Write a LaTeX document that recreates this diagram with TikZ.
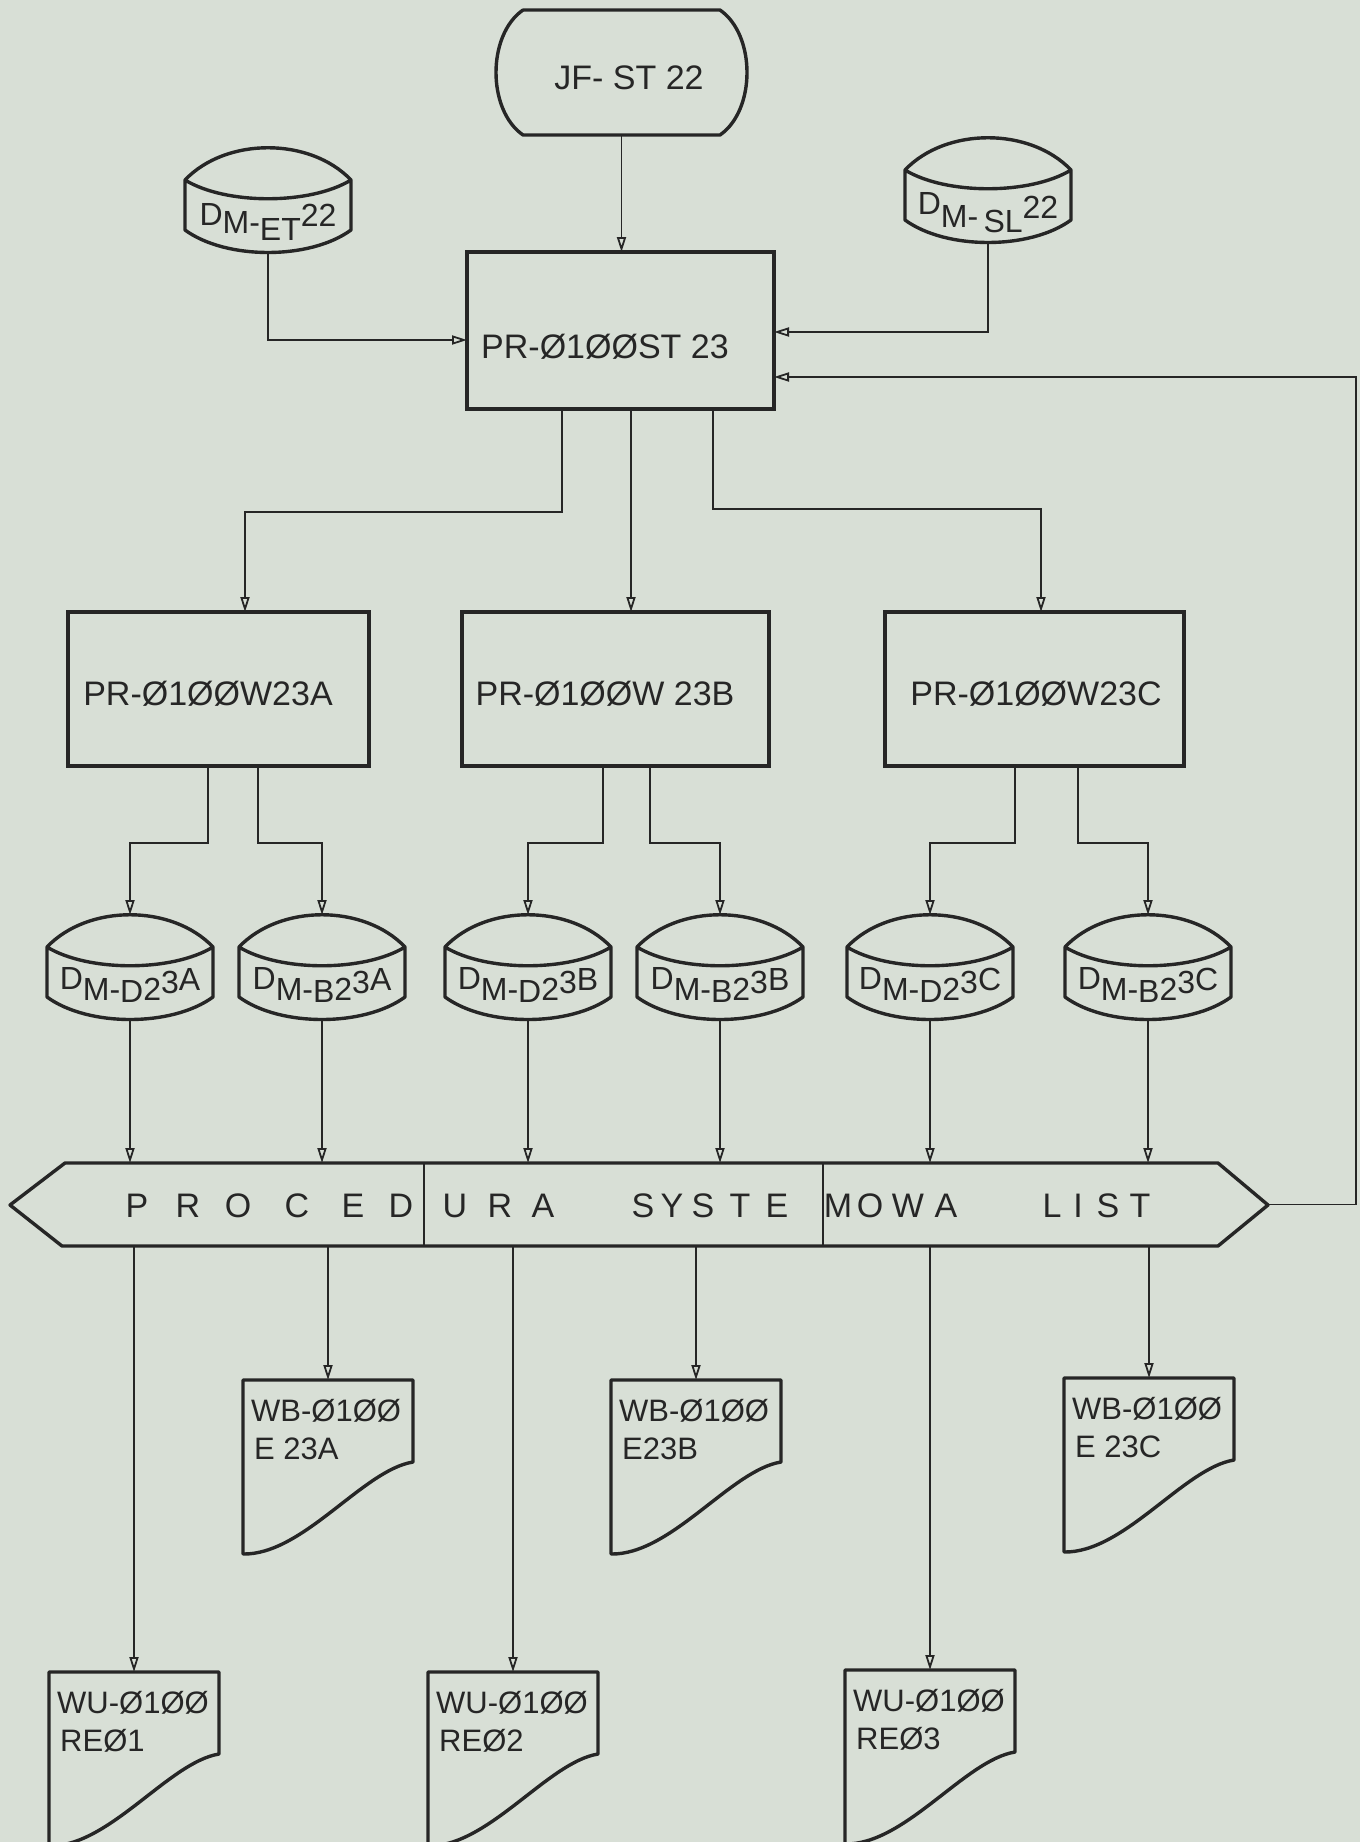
\documentclass[tikz,border=0pt]{standalone}
\usepackage{fontspec}
\setmainfont{Liberation Sans}
\usetikzlibrary{arrows.meta}
\definecolor{paper}{RGB}{216,223,214}
\definecolor{ink}{RGB}{38,38,38}
\newcommand\rb[2]{\raisebox{#1pt}{#2}}
% disk: name, cx, ytop, label, baseline y
\newcommand\mydisk[5]{%
  \node[box0, minimum width=166pt, minimum height=105pt] (#1) at (#2,#3+52.5) {};
  \draw[outl] (#2-83,#3+32) .. controls (#2-42,#3-11) and (#2+42,#3-11) .. (#2+83,#3+32)
     .. controls (#2+42,#3+57) and (#2-42,#3+57) .. (#2-83,#3+32)
     -- (#2-83,#3+82) .. controls (#2-42,#3+112) and (#2+42,#3+112) .. (#2+83,#3+82) -- (#2+83,#3+32);
  \node[dlbl] (#1l) at (#2,#5) {#4};
}
% document: name, xleft, ytop, line1, line2
\newcommand\mydoc[5]{%
  \node[box0, minimum width=170pt, minimum height=174pt] (#1) at (#2+85,#3+87) {};
  \draw[outl] (#2,#3+174) -- (#2,#3) -- (#2+170,#3) -- (#2+170,#3+82)
     .. controls (#2+120,#3+90) and (#2+60,#3+175) .. (#2,#3+174);
  \node[doclbl] (#1a) at (#2+8,#3+41) {#4};
  \node[doclbl] (#1b) at (#2+11,#3+79) {#5};
}
\begin{document}
\begin{tikzpicture}[x=1pt,y=-1pt,
  outl/.style={draw=ink, line width=3.4pt, line join=round, line cap=round},
  conn/.style={draw=ink, line width=1.8pt, -{Triangle[open,length=15pt,width=9pt]}},
  wire/.style={draw=ink, line width=2pt},
  box0/.style={draw=none, inner sep=0pt, outer sep=0pt, shape=rectangle},
  pbox/.style={box0, draw=ink, line width=3.4pt},
  btxt/.style={inner sep=0pt, text=ink, font=\fontsize{34}{38}\selectfont, anchor=base},
  dlbl/.style={inner sep=0pt, text=ink, font=\fontsize{32}{36}\selectfont, anchor=base},
  doclbl/.style={inner sep=0pt, text=ink, font=\fontsize{31}{35}\selectfont, anchor=base west},
  hexl/.style={inner sep=0pt, text=ink, font=\fontsize{34}{38}\selectfont, anchor=base},
]
\useasboundingbox (0,0) rectangle (1360,1842);
\fill[paper] (0,0) rectangle (1360,1842);

% terminal JF-ST22
\node[box0, minimum width=251pt, minimum height=125pt] (jf) at (621.5,72.5) {};
\draw[outl] (523,10) -- (720,10) .. controls (756,35) and (756,110) .. (720,135)
   -- (523,135) .. controls (487,110) and (487,35) .. (523,10);
\node[btxt] (jft) at (629,89) {JF- ST 22};

% top disks
\mydisk{et}{268}{148}{\rb{15}{D}\rb{7}{M-}ET\rb{14}{22}}{240}
\mydisk{sl}{988}{138}{\rb{18}{D}\rb{5}{M-\,}SL\rb{14}{22}}{232}

% main box
\node[pbox, minimum width=307pt, minimum height=157pt] (st) at (620.5,330.5) {};
\node[btxt] (stt) at (605,358) {PR-Ø1ØØST 23};

% second row boxes
\node[pbox, minimum width=301pt, minimum height=154pt] (wa) at (218.5,689) {};
\node[pbox, minimum width=307pt, minimum height=154pt] (wb) at (615.5,689) {};
\node[pbox, minimum width=299pt, minimum height=154pt] (wc) at (1034.5,689) {};
\node[btxt] (wat) at (208,705) {PR-Ø1ØØW23A};
\node[btxt] (wbt) at (605,705) {PR-Ø1ØØW 23B};
\node[btxt] (wct) at (1036,705) {PR-Ø1ØØW23C};

% disks row
\mydisk{d1}{130}{915}{\rb{13}{D}\rb{2}{M-}D\rb{2}{2}\rb{9}{3}\rb{12}{A}}{1002}
\mydisk{d2}{322}{915}{\rb{13}{D}\rb{2}{M-}B\rb{2}{2}\rb{9}{3}\rb{12}{A}}{1002}
\mydisk{d3}{528}{915}{\rb{13}{D}\rb{2}{M-}D\rb{2}{2}\rb{9}{3}\rb{12}{B}}{1002}
\mydisk{d4}{720}{915}{\rb{13}{D}\rb{2}{M-}B\rb{2}{2}\rb{9}{3}\rb{12}{B}}{1002}
\mydisk{d5}{930}{915}{\rb{13}{D}\rb{2}{M-}D\rb{2}{2}\rb{9}{3}\rb{12}{C}}{1002}
\mydisk{d6}{1148}{915}{\rb{13}{D}\rb{2}{M-}B\rb{2}{2}\rb{9}{3}\rb{12}{C}}{1002}

% hexagon
\node[box0, minimum width=1258pt, minimum height=83pt] (hex) at (639,1204.5) {};
\draw[outl] (10,1205) -- (65,1163) -- (1218,1163) -- (1268,1205) -- (1218,1246) -- (62,1246) -- cycle;
\draw[wire] (424,1163) -- (424,1246);
\draw[wire] (823,1163) -- (823,1246);
\foreach \x/\c [count=\i] in {137/P,188/R,238/O,297/C,353/E,401/D,455/U,500/R,543/A,
   643/S,672/Y,703/S,740/T,777/E,838/M,870/O,908/W,946/A,1052/L,1078/I,1108/S,1140/T}
  \node[hexl] (h\i) at (\x,1217) {\c};

% documents
\mydoc{e1}{243}{1380}{WB-Ø1ØØ}{E 23A}
\mydoc{e2}{611}{1380}{WB-Ø1ØØ}{E23B}
\mydoc{e3}{1064}{1378}{WB-Ø1ØØ}{E 23C}
\mydoc{r1}{49}{1672}{WU-Ø1ØØ}{REØ1}
\mydoc{r2}{428}{1672}{WU-Ø1ØØ}{REØ2}
\mydoc{r3}{845}{1670}{WU-Ø1ØØ}{REØ3}

% connectors: top
\draw[conn] (jf.south) -- (jf.south |- st.north);
\draw[conn] (et.south) |- ([yshift=-9.5pt]st.west);
\draw[conn] (sl.south) |- ([yshift=-1.5pt]st.east);
\coordinate (fb) at (1356,1204.5);
\draw[conn] (hex.east) -- (fb) |- ([yshift=-46.5pt]st.east);

% main box to second row
\coordinate (s1) at ([xshift=-58.5pt]st.south);
\coordinate (s2) at ([xshift=10.5pt]st.south);
\coordinate (s3) at ([xshift=92.5pt]st.south);
\draw[conn] (s1) -- ++(0,103) -| ([xshift=26.5pt]wa.north);
\draw[conn] (s2) -- (s2 |- wb.north);
\draw[conn] (s3) -- ++(0,100) -| ([xshift=6.5pt]wc.north);

% second row to disks
\draw[conn] ([xshift=-10.5pt]wa.south) -- ++(0,77) -| (d1.north);
\draw[conn] ([xshift=39.5pt]wa.south) -- ++(0,77) -| (d2.north);
\draw[conn] ([xshift=-12.5pt]wb.south) -- ++(0,77) -| (d3.north);
\draw[conn] ([xshift=34.5pt]wb.south) -- ++(0,77) -| (d4.north);
\draw[conn] ([xshift=-19.5pt]wc.south) -- ++(0,77) -| (d5.north);
\draw[conn] ([xshift=43.5pt]wc.south) -- ++(0,77) -| (d6.north);

% disks to hexagon
\foreach \d in {d1,d2,d3,d4,d5,d6}
  \draw[conn] (\d.south) -- (\d.south |- hex.north);

% hexagon to documents
\foreach \d in {e1,e2,e3,r1,r2,r3}
  \draw[conn] (hex.south -| \d.north) -- (\d.north);
\end{tikzpicture}
\end{document}
